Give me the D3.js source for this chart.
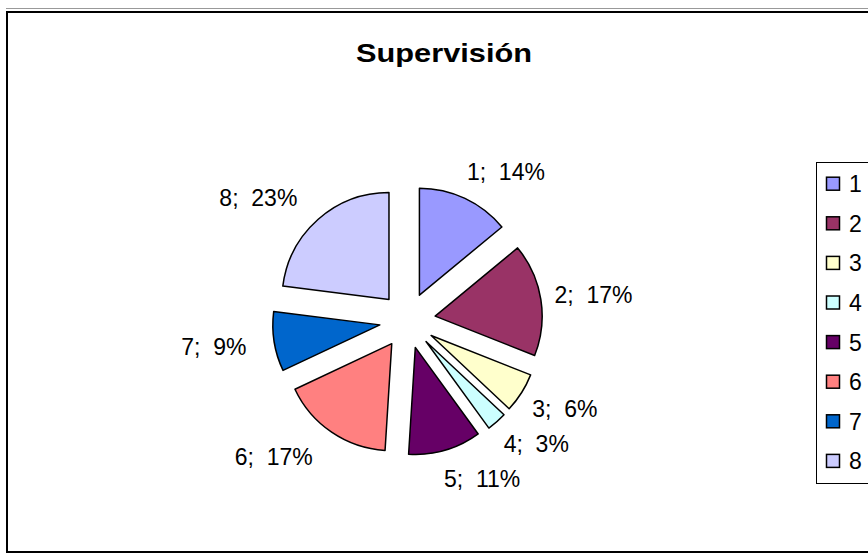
<!DOCTYPE html>
<html><head><meta charset="utf-8">
<script src="https://cdn.jsdelivr.net/npm/d3@7"></script>
<style>body{margin:0;background:#fff} svg{display:block}</style>
</head><body>
<svg width="868" height="554"></svg>
<script>
const categories = ["1","2","3","4","5","6","7","8"];
const values = [14,17,6,3,11,17,9,23];
const colors = ["#9999FF","#993366","#FFFFCC","#CCFFFF","#660066","#FF8080","#0066CC","#CCCCFF"];
const title = "Supervisión";

const svg = d3.select("svg");
const font = "Arial, 'Liberation Sans', sans-serif";

// frame
svg.append("line").attr("x1",6).attr("x2",868).attr("y1",8.5).attr("y2",8.5)
  .attr("stroke","#999").attr("stroke-width",1);
svg.append("rect").attr("x",7).attr("y",12).attr("width",900).attr("height",540)
  .attr("fill","none").attr("stroke","#000").attr("stroke-width",2);

// title
svg.append("text").attr("x",444).attr("y",62).attr("text-anchor","middle")
  .attr("font-family",font).attr("font-weight","bold").attr("font-size",26)
  .attr("textLength",176).attr("lengthAdjust","spacingAndGlyphs")
  .text(title);

// pie
const cx = 407.5, cy = 320.5, r = 107, explode = 28, labelR = 128, labelDx = -7, capH = 17;
const total = d3.sum(values);
const pie = d3.pie().sort(null).value(d => d)(values);
const arc = d3.arc().innerRadius(0).outerRadius(r);
const g = svg.append("g").attr("transform",`translate(${cx},${cy})`);

pie.forEach((p,i) => {
  const mid = (p.startAngle + p.endAngle)/2;
  const sx = Math.sin(mid), sy = -Math.cos(mid);
  const ox = explode*sx, oy = explode*sy;
  g.append("path").attr("d", arc(p))
    .attr("transform",`translate(${ox},${oy})`)
    .attr("fill", colors[i]).attr("stroke","#000").attr("stroke-width",1.5)
    .attr("stroke-linejoin","round");
  const px = ox + labelR*sx + labelDx, py = oy + labelR*sy;
  const pct = Math.round(values[i]/total*100);
  g.append("text").attr("font-family",font).attr("font-size",23)
    .style("white-space","pre")
    .attr("text-anchor", sx >= 0 ? "start" : "end")
    .attr("x", px)
    .attr("y", py + capH*(1 - Math.cos(mid))/2)
    .text(`${categories[i]};  ${pct}%`);
});

// legend
const lx = 816, ly = 162;
svg.append("rect").attr("x",lx+0.5).attr("y",ly+0.5).attr("width",80).attr("height",321)
  .attr("fill","#fff").attr("stroke","#000").attr("stroke-width",1);
const ly0 = 183.7, lstep = 39.6;
categories.forEach((c,i) => {
  const yc = ly0 + i*lstep;
  svg.append("rect").attr("x",826.5).attr("y",yc-6.5).attr("width",13).attr("height",13)
    .attr("fill",colors[i]).attr("stroke","#000").attr("stroke-width",1.5);
  svg.append("text").attr("x",849).attr("y",yc+8.5)
    .attr("font-family",font).attr("font-size",23).text(c);
});
</script>
</body></html>
